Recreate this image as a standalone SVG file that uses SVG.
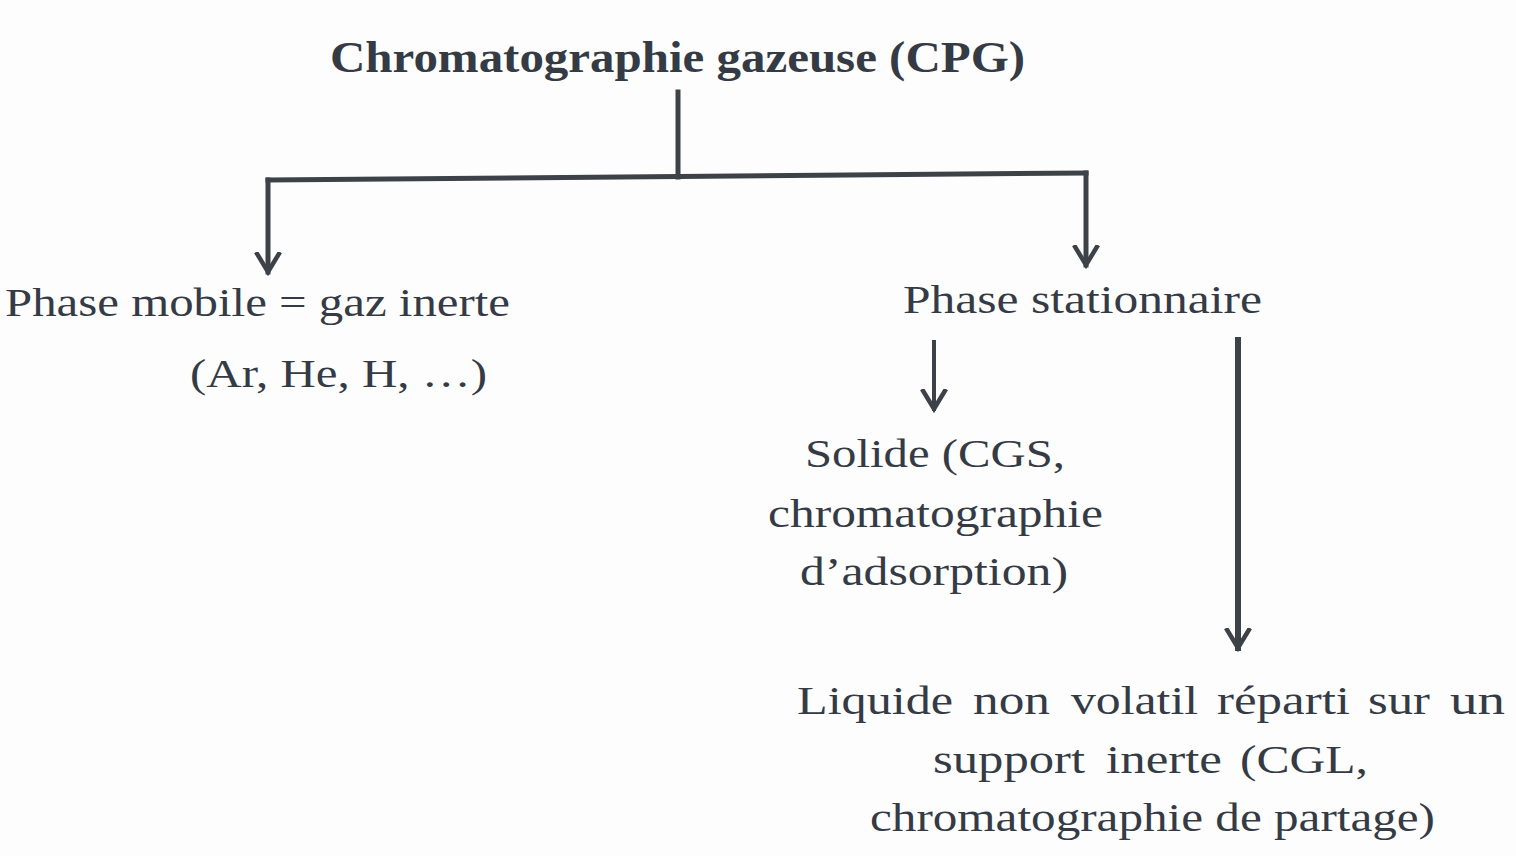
<svg xmlns="http://www.w3.org/2000/svg" width="1516" height="856" viewBox="0 0 1516 856">
<style>
text{font-family:"Liberation Serif","Times New Roman",serif;font-size:41px;fill:#353b45}
.title{font-weight:bold;font-size:45px}
.ln{stroke:#3d4249;stroke-width:5;fill:none;stroke-linecap:square}
</style>
<defs>
<marker id="ah" markerUnits="userSpaceOnUse" markerWidth="40" markerHeight="40" viewBox="-20 -20 40 40" refX="0" refY="0" orient="auto">
<path d="M-20,-12 L0,0 L-20,12" fill="none" stroke="#3d4249" stroke-width="4.5" stroke-linejoin="miter"/>
</marker>
</defs>
<rect width="1516" height="856" fill="#fdfdfd"/>
<g id="connectors">
<line class="ln" x1="678" y1="92" x2="678" y2="177"/>
<line class="ln" x1="268" y1="180" x2="1086" y2="173"/>
<line class="ln" x1="268" y1="180" x2="268" y2="272" marker-end="url(#ah)"/>
<line class="ln" x1="1086" y1="173" x2="1086" y2="265" marker-end="url(#ah)"/>
<line class="ln" x1="934" y1="342" x2="934" y2="409" marker-end="url(#ah)" style="stroke-width:4"/>
<line class="ln" x1="1238" y1="340" x2="1238" y2="648" marker-end="url(#ah)" style="stroke-width:6"/>
</g>
<g id="root">
<text class="title" x="330" y="72" textLength="695" lengthAdjust="spacingAndGlyphs">Chromatographie gazeuse (CPG)</text>
</g>
<g id="mobile">
<text x="5" y="316" textLength="505" lengthAdjust="spacingAndGlyphs">Phase mobile = gaz inerte</text>
<text x="190" y="387" textLength="297" lengthAdjust="spacingAndGlyphs">(Ar, He, H, …)</text>
</g>
<g id="stationnaire">
<text x="903" y="313" textLength="359" lengthAdjust="spacingAndGlyphs">Phase stationnaire</text>
</g>
<g id="solide">
<text x="805" y="467" textLength="260" lengthAdjust="spacingAndGlyphs">Solide (CGS,</text>
<text x="768" y="527" textLength="335" lengthAdjust="spacingAndGlyphs">chromatographie</text>
<text x="800" y="585" textLength="268" lengthAdjust="spacingAndGlyphs">d’adsorption)</text>
</g>
<g id="liquide">
<text x="797" y="714" textLength="156" lengthAdjust="spacingAndGlyphs">Liquide</text>
<text x="973" y="714" textLength="77" lengthAdjust="spacingAndGlyphs">non</text>
<text x="1071" y="714" textLength="127" lengthAdjust="spacingAndGlyphs">volatil</text>
<text x="1217" y="714" textLength="133" lengthAdjust="spacingAndGlyphs">réparti</text>
<text x="1368" y="714" textLength="62" lengthAdjust="spacingAndGlyphs">sur</text>
<text x="1450" y="714" textLength="55" lengthAdjust="spacingAndGlyphs">un</text>
<text x="933" y="773" textLength="152" lengthAdjust="spacingAndGlyphs">support</text>
<text x="1106" y="773" textLength="116" lengthAdjust="spacingAndGlyphs">inerte</text>
<text x="1240" y="773" textLength="128" lengthAdjust="spacingAndGlyphs">(CGL,</text>
<text x="870" y="831" textLength="565" lengthAdjust="spacingAndGlyphs">chromatographie de partage)</text>
</g>
</svg>
